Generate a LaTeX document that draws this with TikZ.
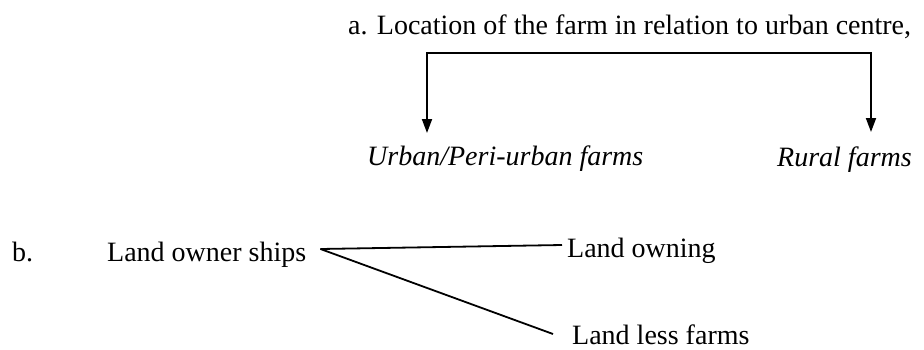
\documentclass[tikz,border=0pt]{standalone}
\usepackage{fontspec}
\setmainfont{Liberation Serif}
\usetikzlibrary{arrows.meta}
\begin{document}
\begin{tikzpicture}[x=1pt,y=-1pt,
  lbl/.style={inner sep=0pt,anchor=base west,font=\fontsize{28}{34}\selectfont},
  ilbl/.style={lbl,font=\fontsize{28}{34}\selectfont\itshape},
  conn/.style={line width=1.8pt},
  arr/.style={conn,{Triangle[length=14pt,width=10pt]}-{Triangle[length=14pt,width=10pt]}}]
\useasboundingbox[fill=white] (0,0) rectangle (924,349);
% part a
\node[lbl] (title) at (348,34) {a. Location of the farm in relation to urban centre,};
\node[ilbl] (urban) at (367,165) {Urban/Peri-urban farms};
\node[ilbl] (rural) at (777,166) {Rural farms};
\coordinate (ltip) at (427,133);
\coordinate (rtip) at (871,132);
\coordinate (top) at (650,53);
\draw[arr] (ltip) |- (top) -| (rtip);
% part b
\node[lbl] (b) at (12,261) {b.};
\node[lbl] (ships) at (107,261) {Land owner ships};
\node[lbl] (owning) at (567,257) {Land owning};
\node[lbl] (less) at (572,344) {Land less farms};
\coordinate (apex) at ([xshift=14pt,yshift=12pt]ships.base east);
\draw[conn] (apex) -- ([xshift=-5pt,yshift=12pt]owning.base west);
\draw[conn] (apex) -- ([xshift=-19pt,yshift=10pt]less.base west);
\end{tikzpicture}
\end{document}
